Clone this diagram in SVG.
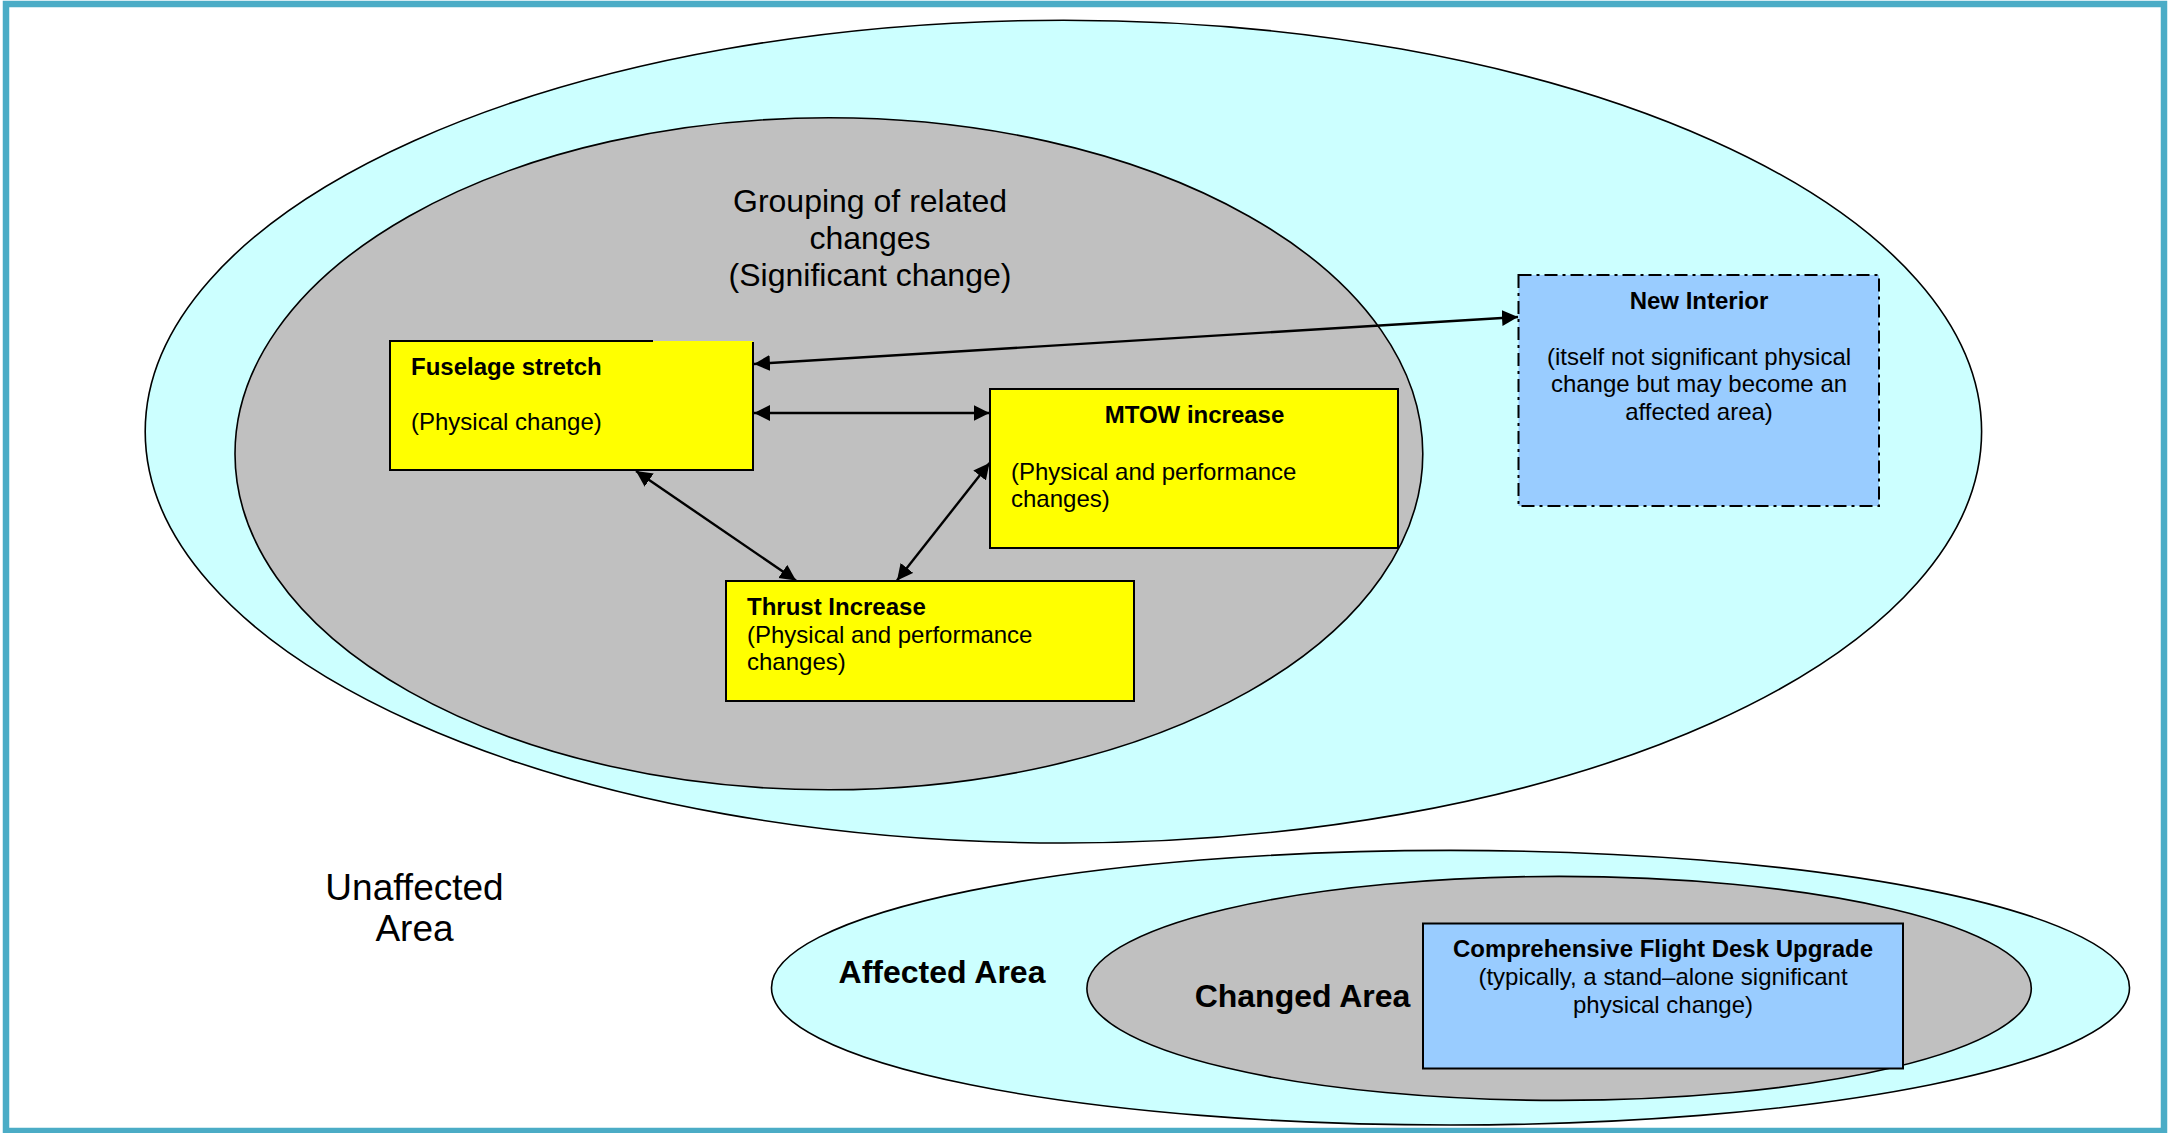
<svg xmlns="http://www.w3.org/2000/svg" width="2168" height="1133" viewBox="0 0 2168 1133">
<defs>
<style>
.frame{fill:none;stroke:#4BACC6;stroke-width:6.5}
.area{fill:#CCFFFF;stroke:#000;stroke-width:1.6}
.changed{fill:#C0C0C0;stroke:#000;stroke-width:1.6}
.yfill{fill:#FFFF00;stroke:none}
.yline{fill:none;stroke:#000;stroke-width:2}
.ybox{fill:#FFFF00;stroke:#000;stroke-width:2}
.bbox{fill:#99CCFF;stroke:#000;stroke-width:2}
.dashdot{stroke-dasharray:13 5 3 5}
text{font-family:"Liberation Sans",Arial,sans-serif;fill:#000}
.t24{font-size:24px}
.t32{font-size:32px}
.t37{font-size:37px}
.b{font-weight:bold}
.mid{text-anchor:middle}
.conn{stroke:#000;stroke-width:2.4;fill:none;marker-start:url(#ah);marker-end:url(#ah)}
</style>
<marker id="ah" markerUnits="userSpaceOnUse" markerWidth="18" markerHeight="18" refX="16" refY="8" orient="auto-start-reverse"><path d="M0,0 L16,8 L0,16 z" fill="#000"/></marker>
</defs>
<rect x="0" y="0" width="2168" height="1133" fill="#fff"/>
<rect class="frame" x="6" y="4" width="2158" height="1127"/>

<g id="affected-area-top">
<ellipse class="area" cx="1063.4" cy="431.6" rx="918.2" ry="411.4"/>
</g>
<g id="grouping">
<ellipse class="changed" cx="828.9" cy="453.8" rx="593.9" ry="336"/>
<text class="t32 mid" x="870" y="211.5">Grouping of related</text>
<text class="t32 mid" x="870" y="248.5">changes</text>
<text class="t32 mid" x="870" y="285.5">(Significant change)</text>
</g>

<g id="new-interior">
<rect class="bbox dashdot" x="1518.5" y="275" width="360.5" height="231"/>
<text class="t24 b mid" x="1699" y="308.5">New Interior</text>
<text class="t24 mid" x="1699" y="364.5">(itself not significant physical</text>
<text class="t24 mid" x="1699" y="392">change but may become an</text>
<text class="t24 mid" x="1699" y="419.5">affected area)</text>
</g>

<g id="fuselage-stretch">
<rect class="yfill" x="390" y="341" width="363" height="129"/>
<path class="yline" d="M653,341 H390 V470 H753 V342"/>
<text class="t24 b" x="411" y="374.5">Fuselage stretch</text>
<text class="t24" x="411" y="430">(Physical change)</text>
</g>

<g id="mtow-increase">
<rect class="ybox" x="990" y="389" width="408" height="159"/>
<text class="t24 b mid" x="1194.5" y="422.5">MTOW increase</text>
<text class="t24" x="1011" y="479.5">(Physical and performance</text>
<text class="t24" x="1011" y="507">changes)</text>
</g>

<g id="thrust-increase">
<rect class="ybox" x="726" y="581" width="408" height="120"/>
<text class="t24 b" x="747" y="614.5">Thrust Increase</text>
<text class="t24" x="747" y="642.5">(Physical and performance</text>
<text class="t24" x="747" y="670">changes)</text>
</g>

<g id="connectors">
<line class="conn" x1="1518" y1="317" x2="754" y2="364"/>
<line class="conn" x1="754" y1="413" x2="989.5" y2="413"/>
<line class="conn" x1="636" y1="471" x2="796" y2="580.5"/>
<line class="conn" x1="989.5" y1="463" x2="897" y2="580.5"/>
</g>

<g id="unaffected-area">
<text class="t37 mid" x="414.5" y="900">Unaffected</text>
<text class="t37 mid" x="414.5" y="941">Area</text>
</g>

<g id="affected-area">
<ellipse class="area" cx="1450.5" cy="987.7" rx="679" ry="137.3"/>
<text class="t32 b mid" x="942" y="982.5">Affected Area</text>
</g>
<g id="changed-area">
<ellipse class="changed" cx="1559.1" cy="988.4" rx="472.2" ry="112"/>
<text class="t32 b mid" x="1302.5" y="1007">Changed Area</text>
</g>
<g id="flight-desk-upgrade">
<rect class="bbox" x="1423" y="923.5" width="480" height="145"/>
<text class="t24 b mid" x="1663" y="957">Comprehensive Flight Desk Upgrade</text>
<text class="t24 mid" x="1663" y="985">(typically, a stand–alone significant</text>
<text class="t24 mid" x="1663" y="1012.5">physical change)</text>
</g>
</svg>
